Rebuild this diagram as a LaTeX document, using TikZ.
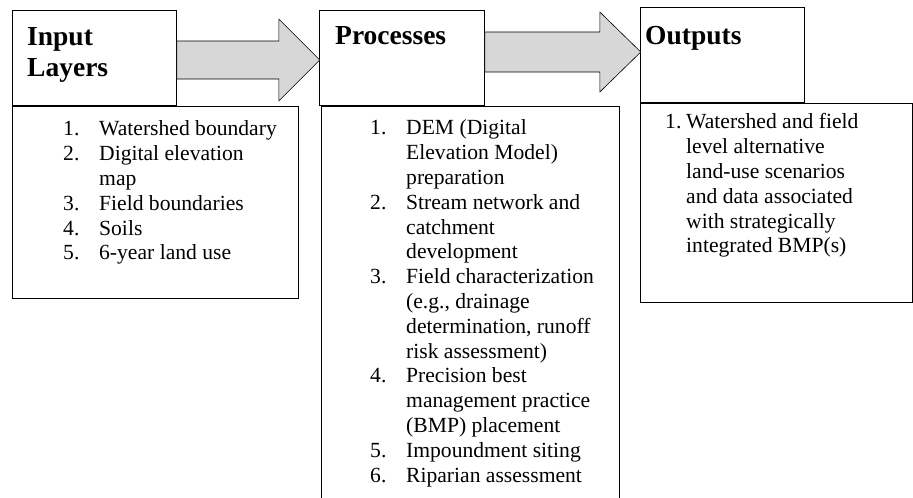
\documentclass[tikz,border=0pt]{standalone}
\usepackage{fontspec}
\setmainfont{Liberation Serif}
\usepackage{tikz}
\usetikzlibrary{calc}

\definecolor{arrowgray}{RGB}{215,215,215}

\begin{document}
\begin{tikzpicture}[x=1pt, y=-1pt,
        % Style for the header boxes
        headbox/.style={
            draw,
            line width=0.8pt,
            minimum width=164pt,
            minimum height=95pt,
            anchor=north west,
            inner sep=0pt
        },
        % Style for the boxes holding the lists
        listbox/.style={
            draw,
            line width=0.8pt,
            anchor=north west,
            inner sep=0pt
        },
        % Style for the bold header titles
        headtitle/.style={
            anchor=base west,
            inner sep=0pt,
            font=\fontsize{27.5}{31}\selectfont\bfseries
        },
        % Style for the numbered lists
        itemlist/.style={
            anchor=base west,
            inner sep=0pt,
            font=\fontsize{21.6}{24.8}\selectfont
        },
        % Style for the big grey block arrows
        flowarrow/.style={
            draw,
            fill=arrowgray,
            line width=0.6pt,
            line join=miter
        }
    ]

    \useasboundingbox (0,0) rectangle (913,498);
    \clip (0,0) rectangle (913,498);

    % ==========================================
    % HEADER BOXES
    % ==========================================
    \node[headbox] (inhdr) at (12,10) {};
    \node[headbox, minimum width=165pt] (prochdr) at (319,10) {};
    \node[headbox] (outhdr) at (640,7) {};

    \node[headtitle] (intitle) at ($(inhdr.north west)+(15,35)$)
        {\begin{tabular}[t]{@{}l@{}}Input\\Layers\end{tabular}};
    \node[headtitle] (proctitle) at ($(prochdr.north west)+(16,34)$) {Processes};
    \node[headtitle] (outtitle) at ($(outhdr.north west)+(5,37)$) {Outputs};

    % ==========================================
    % BLOCK ARROWS
    % ==========================================
    \draw[flowarrow] ($(inhdr.north east)+(0,31)$) -- ++(102,0) -- ++(0,-22)
        -- ++(41,41) -- ++(-41,41) -- ++(0,-22) -- ++(-102,0) -- cycle;
    \draw[flowarrow] ($(prochdr.north east)+(0,22)$) -- ++(115,0) -- ++(0,-20)
        -- ++(41,40) -- ++(-41,40) -- ++(0,-20) -- ++(-115,0) -- cycle;

    % ==========================================
    % LIST BOXES
    % ==========================================
    \node[listbox, minimum width=286pt, minimum height=192pt] (inbox) at (inhdr.south west) {};
    \node[listbox, minimum width=298pt, minimum height=420pt] (procbox) at ($(prochdr.south west)+(2,0)$) {};
    \node[listbox, minimum width=272pt, minimum height=199pt] (outbox) at (outhdr.south west) {};

    \node[itemlist] (inlist) at ($(inbox.north west)+(51,30)$) {%
        \begin{tabular}[t]{@{}p{36pt}@{}l@{}}
        1. & Watershed boundary\\
        2. & Digital elevation\\
           & map\\
        3. & Field boundaries\\
        4. & Soils\\
        5. & 6-year land use
        \end{tabular}};

    \node[itemlist] (proclist) at ($(procbox.north west)+(49,29)$) {%
        \begin{tabular}[t]{@{}p{36pt}@{}l@{}}
        1. & DEM (Digital\\
           & Elevation Model)\\
           & preparation\\
        2. & Stream network and\\
           & catchment\\
           & development\\
        3. & Field characterization\\
           & (e.g., drainage\\
           & determination, runoff\\
           & risk assessment)\\
        4. & Precision best\\
           & management practice\\
           & (BMP) placement\\
        5. & Impoundment siting\\
        6. & Riparian assessment
        \end{tabular}};

    \node[itemlist] (outlist) at ($(outbox.north west)+(25,26)$) {%
        \begin{tabular}[t]{@{}p{21pt}@{}l@{}}
        1. & Watershed and field\\
           & level alternative\\
           & land-use scenarios\\
           & and data associated\\
           & with strategically\\
           & integrated BMP(s)
        \end{tabular}};

\end{tikzpicture}
\end{document}
